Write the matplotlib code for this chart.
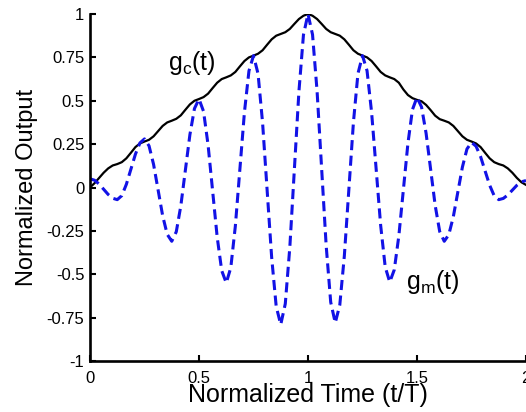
import numpy as np
import matplotlib; matplotlib.use("Agg")
import matplotlib.pyplot as plt

gc = [0.0, 0.025, 0.055, 0.085, 0.11, 0.127, 0.135,
      0.146, 0.168, 0.200, 0.233, 0.254, 0.265,
      0.275, 0.295, 0.325, 0.355, 0.375, 0.385,
      0.396, 0.416, 0.448, 0.479, 0.500, 0.51,
      0.521, 0.541, 0.573, 0.604, 0.625, 0.635,
      0.646, 0.666, 0.698, 0.729, 0.750, 0.76,
      0.771, 0.791, 0.823, 0.854, 0.875, 0.885,
      0.895, 0.914, 0.943, 0.971, 0.990, 1.0,
      0.990, 0.971, 0.943, 0.914, 0.895, 0.885,
      0.875, 0.854, 0.823, 0.791, 0.771, 0.76,
      0.750, 0.729, 0.698, 0.666, 0.646, 0.635,
      0.625, 0.604, 0.565, 0.533, 0.515, 0.505,
      0.497, 0.476, 0.446, 0.414, 0.394, 0.385,
      0.375, 0.355, 0.325, 0.295, 0.275, 0.265,
      0.254, 0.233, 0.200, 0.168, 0.146, 0.135,
      0.127, 0.11, 0.085, 0.055, 0.03, 0.015]
gm = [0.05, 0.042, 0.02, -0.01, -0.04, -0.062, -0.07,
      -0.047, 0.018, 0.105, 0.192, 0.257, 0.28,
      0.24, 0.133, -0.015, -0.163, -0.270, -0.31,
      -0.255, -0.105, 0.10, 0.305, 0.455, 0.51,
      0.439, 0.245, -0.02, -0.285, -0.479, -0.55,
      -0.462, -0.223, 0.105, 0.433, 0.672, 0.76,
      0.656, 0.373, -0.015, -0.403, -0.686, -0.79,
      -0.67, -0.343, 0.105, 0.553, 0.88, 1.0,
      0.881, 0.555, 0.11, -0.335, -0.661, -0.78,
      -0.677, -0.395, -0.01, 0.375, 0.657, 0.76,
      0.673, 0.434, 0.108, -0.219, -0.458, -0.545,
      -0.474, -0.279, -0.013, 0.254, 0.449, 0.52,
      0.464, 0.313, 0.105, -0.103, -0.254, -0.31,
      -0.272, -0.168, -0.025, 0.118, 0.222, 0.26,
      0.238, 0.178, 0.095, 0.013, -0.048, -0.07,
      -0.063, -0.043, -0.015, 0.013, 0.033, 0.04]
t = np.linspace(0, 2, len(gc))
xticks = [0, 0.5, 1, 1.5, 2]
xlabels = ["0", "0.5", "1", "1.5", "2"]
yticks = [-1, -0.75, -0.5, -0.25, 0, 0.25, 0.5, 0.75, 1]
ylabels = ["-1", "-0.75", "-0.5", "-0.25", "0", "0.25", "0.5", "0.75", "1"]

plt.rcParams.update({"font.family": ["Liberation Sans", "DejaVu Sans"], "mathtext.default": "regular"})
fig = plt.figure(figsize=(5.26, 4.12), dpi=100)
ax = fig.add_axes([0.1711, 0.1238, 0.8289, 0.8422])
ax.plot(t, gc, color="black", lw=1.6)
ax.plot(t, gm, color="#1212E6", lw=2.2, ls=(0, (3.3, 1.8)))
ax.set_xlim(0, 2); ax.set_ylim(-1, 1)
ax.set_xticks(xticks); ax.set_xticklabels(xlabels)
ax.set_yticks(yticks); ax.set_yticklabels(ylabels)
for s in ["top", "right"]: ax.spines[s].set_visible(False)
for s in ["left", "bottom"]: ax.spines[s].set_linewidth(1.9)
ax.tick_params(direction="in", length=4, width=1.5, labelsize=12)
ax.tick_params(axis="x", pad=7); ax.tick_params(axis="y", pad=4)
ax.set_xlabel("Normalized Time (t/T)", fontsize=18, labelpad=-2)
ax.set_ylabel("Normalized Output", fontsize=17, labelpad=6)
ax.text(0.36, 0.677, r"$g_c(t)$", fontsize=18, va="baseline")
ax.text(1.45, -0.585, r"$g_m(t)$", fontsize=18, va="baseline")
fig.savefig("out.png", dpi=100)
